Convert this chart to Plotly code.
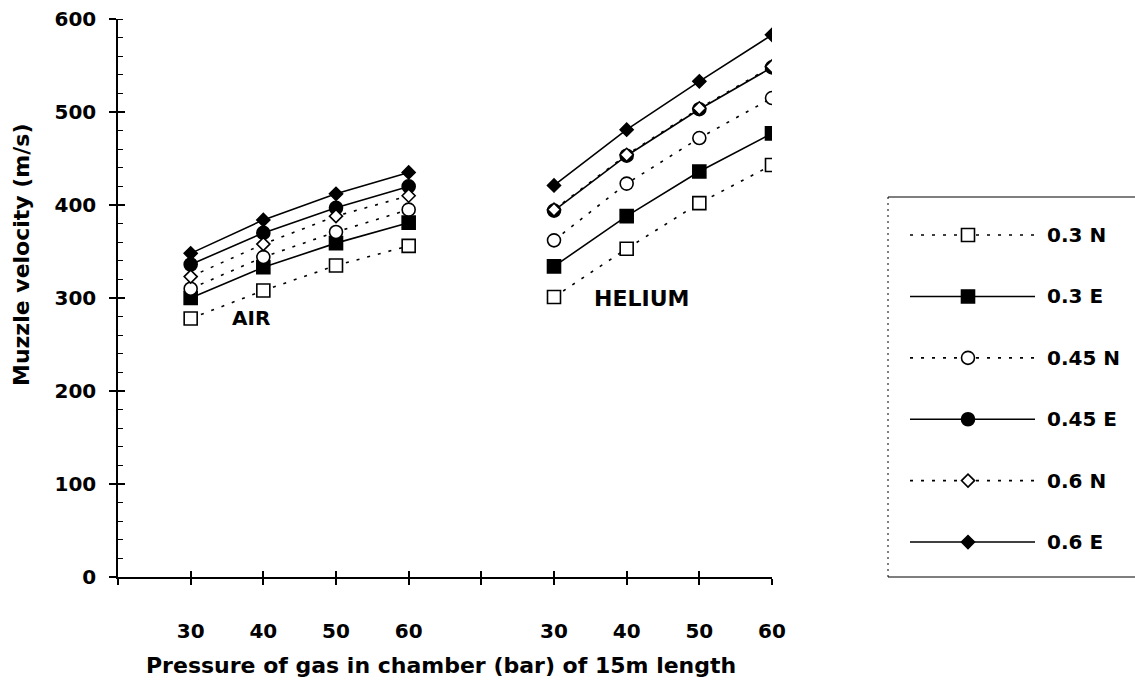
import plotly.graph_objects as go

# Muzzle velocity (m/s) against chamber pressure (bar), 15 m length
pressures = [30, 40, 50, 60]
series_names = ["0.3 N", "0.3 E", "0.45 N", "0.45 E", "0.6 N", "0.6 E"]

air_03N = [278, 308, 335, 356]
air_03E = [300, 333, 359, 381]
air_045N = [310, 344, 371, 395]
air_045E = [336, 370, 397, 420]
air_06N = [323, 358, 388, 410]
air_06E = [348, 384, 412, 435]

helium_03N = [301, 353, 402, 443]
helium_03E = [334, 388, 436, 477]
helium_045N = [362, 423, 472, 515]
helium_045E = [394, 453, 503, 548]
helium_06N = [395, 454, 504, 549]
helium_06E = [421, 481, 533, 583]

air_values = [air_03N, air_03E, air_045N, air_045E, air_06N, air_06E]
helium_values = [helium_03N, helium_03E, helium_045N, helium_045E, helium_06N, helium_06E]

# Styles: N = open marker on dotted line, E = filled marker on solid line
symbols = ["square", "square", "circle", "circle", "diamond", "diamond"]
filled = [False, True, False, True, False, True]
sizes = [13, 13, 13, 13, 10, 10]
DOT = "3px,8px"

FONT = "DejaVu Sans"
W, H = 1135, 684

# Category positions: 0 = origin, 1-4 air, 5 gap, 6-9 helium
air_pos = [1 + i for i in range(len(pressures))]
helium_pos = [6 + i for i in range(len(pressures))]
tick_vals = list(range(10))
tick_text = [""] + [str(p) for p in pressures] + [""] + [str(p) for p in pressures]

fig = go.Figure()

for i, name in enumerate(series_names):
    x = air_pos + [None] + helium_pos
    y = air_values[i] + [None] + helium_values[i]
    fig.add_trace(go.Scatter(
        x=x, y=y, mode="lines+markers", name=name, showlegend=False,
        connectgaps=False,
        line=dict(color="black", width=1.6, dash="solid" if filled[i] else DOT),
        marker=dict(symbol=symbols[i], size=sizes[i],
                    color="black" if filled[i] else "white",
                    line=dict(color="black", width=1.6)),
    ))

# Overlay axes give the major ticks their inner half (crossing ticks)
fig.add_trace(go.Scatter(x=[None], y=[None], xaxis="x2", yaxis="y2",
                         showlegend=False, hoverinfo="skip"))

# Hand-built legend on its own axes
for i, name in enumerate(series_names):
    fig.add_trace(go.Scatter(
        x=[22, 147], y=[i, i], mode="lines", xaxis="x3", yaxis="y3",
        showlegend=False, hoverinfo="skip",
        line=dict(color="black", width=1.6, dash="solid" if filled[i] else DOT),
    ))
    fig.add_trace(go.Scatter(
        x=[80], y=[i], mode="markers", xaxis="x3", yaxis="y3",
        showlegend=False, hoverinfo="skip",
        marker=dict(symbol=symbols[i], size=sizes[i],
                    color="black" if filled[i] else "white",
                    line=dict(color="black", width=1.6)),
    ))
    fig.add_annotation(x=157, y=i, xref="x3", yref="y3", text=name,
                       showarrow=False, xanchor="left", yanchor="middle",
                       font=dict(family=FONT, size=20, color="black", weight="bold"))

x_dom = [118 / W, 772 / W]
y_dom = [1 - 577 / H, 1 - 19 / H]
tick_font = dict(family=FONT, size=20, color="black", weight="bold")
title_font = dict(family=FONT, size=22, color="black", weight="bold")

fig.update_layout(
    width=W, height=H,
    margin=dict(l=0, r=0, t=0, b=0),
    paper_bgcolor="white", plot_bgcolor="white",
    showlegend=False,
    xaxis=dict(domain=x_dom, range=[0, 9], tickmode="array",
               tickvals=tick_vals, ticktext=tick_text,
               showgrid=False, zeroline=False,
               showline=True, linecolor="black", linewidth=1.5,
               ticks="outside", ticklen=6, tickwidth=1.5, tickcolor="black",
               tickfont=tick_font, ticklabelstandoff=29,
               automargin=False, fixedrange=True),
    yaxis=dict(domain=y_dom, range=[0, 600], tickmode="linear", tick0=0, dtick=100,
               showgrid=False, zeroline=False,
               showline=True, linecolor="black", linewidth=1.5,
               ticks="outside", ticklen=7, tickwidth=1.5, tickcolor="black",
               minor=dict(dtick=20, ticks="inside", ticklen=5, tickwidth=1.2,
                          tickcolor="black", showgrid=False),
               tickfont=tick_font, ticklabelstandoff=9,
               automargin=False, fixedrange=True),
    xaxis2=dict(domain=x_dom, range=[0, 9], overlaying="x", tickmode="array",
                tickvals=tick_vals, showticklabels=False, showgrid=False,
                zeroline=False, showline=False, ticks="inside", ticklen=6,
                tickwidth=1.5, tickcolor="black", fixedrange=True),
    yaxis2=dict(domain=y_dom, range=[0, 600], overlaying="y", tickmode="linear",
                tick0=0, dtick=100, showticklabels=False, showgrid=False,
                zeroline=False, showline=False, ticks="inside", ticklen=7,
                tickwidth=1.5, tickcolor="black", fixedrange=True),
    xaxis3=dict(domain=[888 / W, 1], range=[0, W - 888], visible=False, fixedrange=True),
    yaxis3=dict(domain=[1 - 577 / H, 1 - 197 / H], range=[5.57, -0.62],
                visible=False, fixedrange=True),
    annotations=list(fig.layout.annotations) + [
        dict(x=1.83, y=278, xref="x", yref="y", text="AIR", showarrow=False,
             xanchor="center", yanchor="middle",
             font=dict(family=FONT, size=20, color="black", weight="bold")),
        dict(x=7.21, y=300, xref="x", yref="y", text="HELIUM", showarrow=False,
             xanchor="center", yanchor="middle",
             font=dict(family=FONT, size=22, color="black", weight="bold")),
        # axis titles
        dict(x=441 / W, y=1 - 665 / H, xref="paper", yref="paper",
             text="Pressure of gas in chamber (bar) of 15m length", showarrow=False,
             xanchor="center", yanchor="middle", font=title_font),
        dict(x=22 / W, y=1 - 255 / H, xref="paper", yref="paper",
             text="Muzzle velocity (m/s)", showarrow=False, textangle=-90,
             xanchor="center", yanchor="middle", font=title_font),
    ],
    shapes=[
        dict(type="line", xref="paper", yref="paper", x0=888 / W, x1=1,
             y0=1 - 197 / H, y1=1 - 197 / H, line=dict(color="black", width=1.2)),
        dict(type="line", xref="paper", yref="paper", x0=888 / W, x1=1,
             y0=1 - 577 / H, y1=1 - 577 / H, line=dict(color="black", width=1.2)),
        dict(type="line", xref="paper", yref="paper", x0=888 / W, x1=888 / W,
             y0=1 - 577 / H, y1=1 - 197 / H,
             line=dict(color="black", width=1, dash="2px,4px")),
    ],
)

fig.write_html("out.html")
